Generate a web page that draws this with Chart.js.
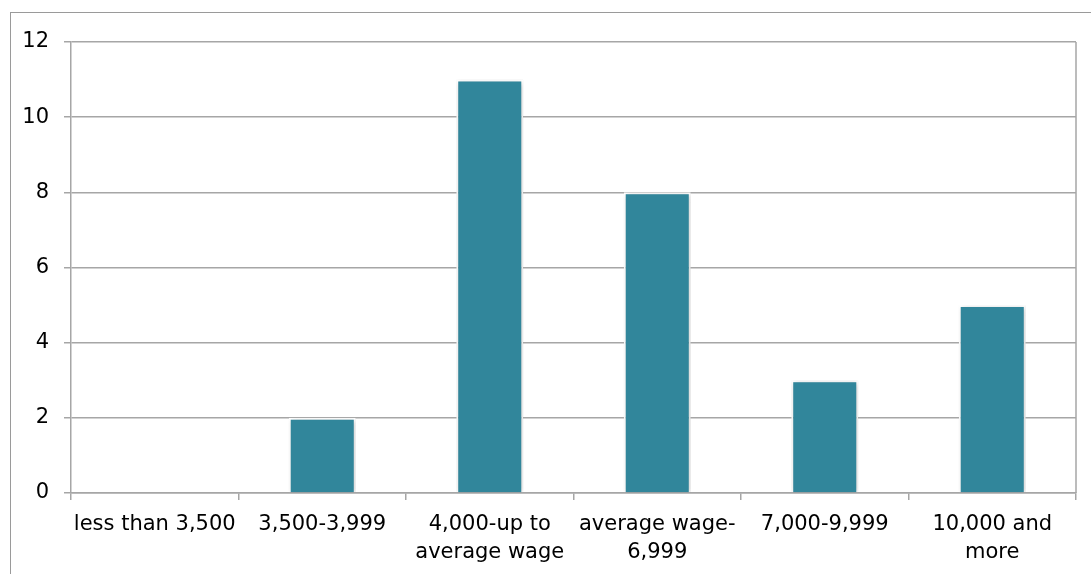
<!DOCTYPE html>
<html>
<head>
<meta charset="utf-8">
<script src="https://cdn.jsdelivr.net/npm/chart.js@4"></script>
<style>
  html, body { margin: 0; padding: 0; background: #ffffff; overflow: hidden; }
  #frame { position: absolute; left: 10px; top: 12px; width: 1200px; height: 700px; border: 1px solid #9a9a9a; }
  #wrap { position: absolute; left: 0; top: 0; width: 1091px; height: 574px; }
</style>
</head>
<body>
<div id="frame"></div>
<div id="wrap"><canvas id="graphCanvas"></canvas></div>
<script>
var categories = [
    ['less than 3,500'],
    ['3,500-3,999'],
    ['4,000-up to', 'average wage'],
    ['average wage-', '6,999'],
    ['7,000-9,999'],
    ['10,000 and', 'more']
];
var counts = [0, 2, 11, 8, 3, 5];
var yTicks = [0, 2, 4, 6, 8, 10, 12];

Chart.defaults.font.family = "'DejaVu Sans', 'Liberation Sans', sans-serif";
Chart.defaults.font.size = 21;
Chart.defaults.color = '#000000';

// right edge of the plot box + soft shadow on the bars
var plotBox = {
    id: 'plotBox',
    beforeDatasetsDraw: function (chart) {
        var ctx = chart.ctx;
        ctx.save();
        ctx.shadowColor = 'rgba(0,0,0,0.25)';
        ctx.shadowBlur = 5;
        ctx.shadowOffsetX = 1;
        ctx.shadowOffsetY = 1;
    },
    afterDatasetsDraw: function (chart) {
        chart.ctx.restore();
    },
    afterDraw: function (chart) {
        var a = chart.chartArea, ctx = chart.ctx;
        ctx.save();
        ctx.strokeStyle = '#a6a6a6';
        ctx.lineWidth = 1.5;
        ctx.beginPath();
        ctx.moveTo(a.right, a.top);
        ctx.lineTo(a.right, a.bottom);
        ctx.stroke();
        ctx.restore();
    }
};

new Chart(document.getElementById('graphCanvas'), {
    type: 'bar',
    data: {
        labels: categories,
        datasets: [{
            data: counts,
            backgroundColor: '#31869b',
            borderColor: '#ffffff',
            borderWidth: 2,
            categoryPercentage: 1,
            barPercentage: 0.4
        }]
    },
    plugins: [plotBox],
    options: {
        responsive: true,
        maintainAspectRatio: false,
        animation: false,
        layout: { padding: { top: 42, right: 15, left: 0, bottom: 0 } },
        plugins: {
            legend: { display: false },
            tooltip: { enabled: false }
        },
        scales: {
            x: {
                offset: true,
                grid: { drawOnChartArea: false, color: '#a6a6a6', tickLength: 7, lineWidth: 1.5, offset: true },
                border: { color: '#a6a6a6', width: 1.5 },
                ticks: { maxRotation: 0, minRotation: 0, padding: 10, color: '#000000', font: { lineHeight: 1.34 } },
                afterFit: function (scale) { scale.height = 81; }
            },
            y: {
                min: 0,
                max: 12,
                afterBuildTicks: function (scale) {
                    scale.ticks = yTicks.map(function (v) { return { value: v }; });
                },
                grid: { color: '#a6a6a6', tickLength: 7, lineWidth: 1.5 },
                border: { color: '#a6a6a6', width: 1.5 },
                ticks: { padding: 15, color: '#000000' },
                afterFit: function (scale) { scale.width = 71; }
            }
        }
    }
});
</script>
</body>
</html>
